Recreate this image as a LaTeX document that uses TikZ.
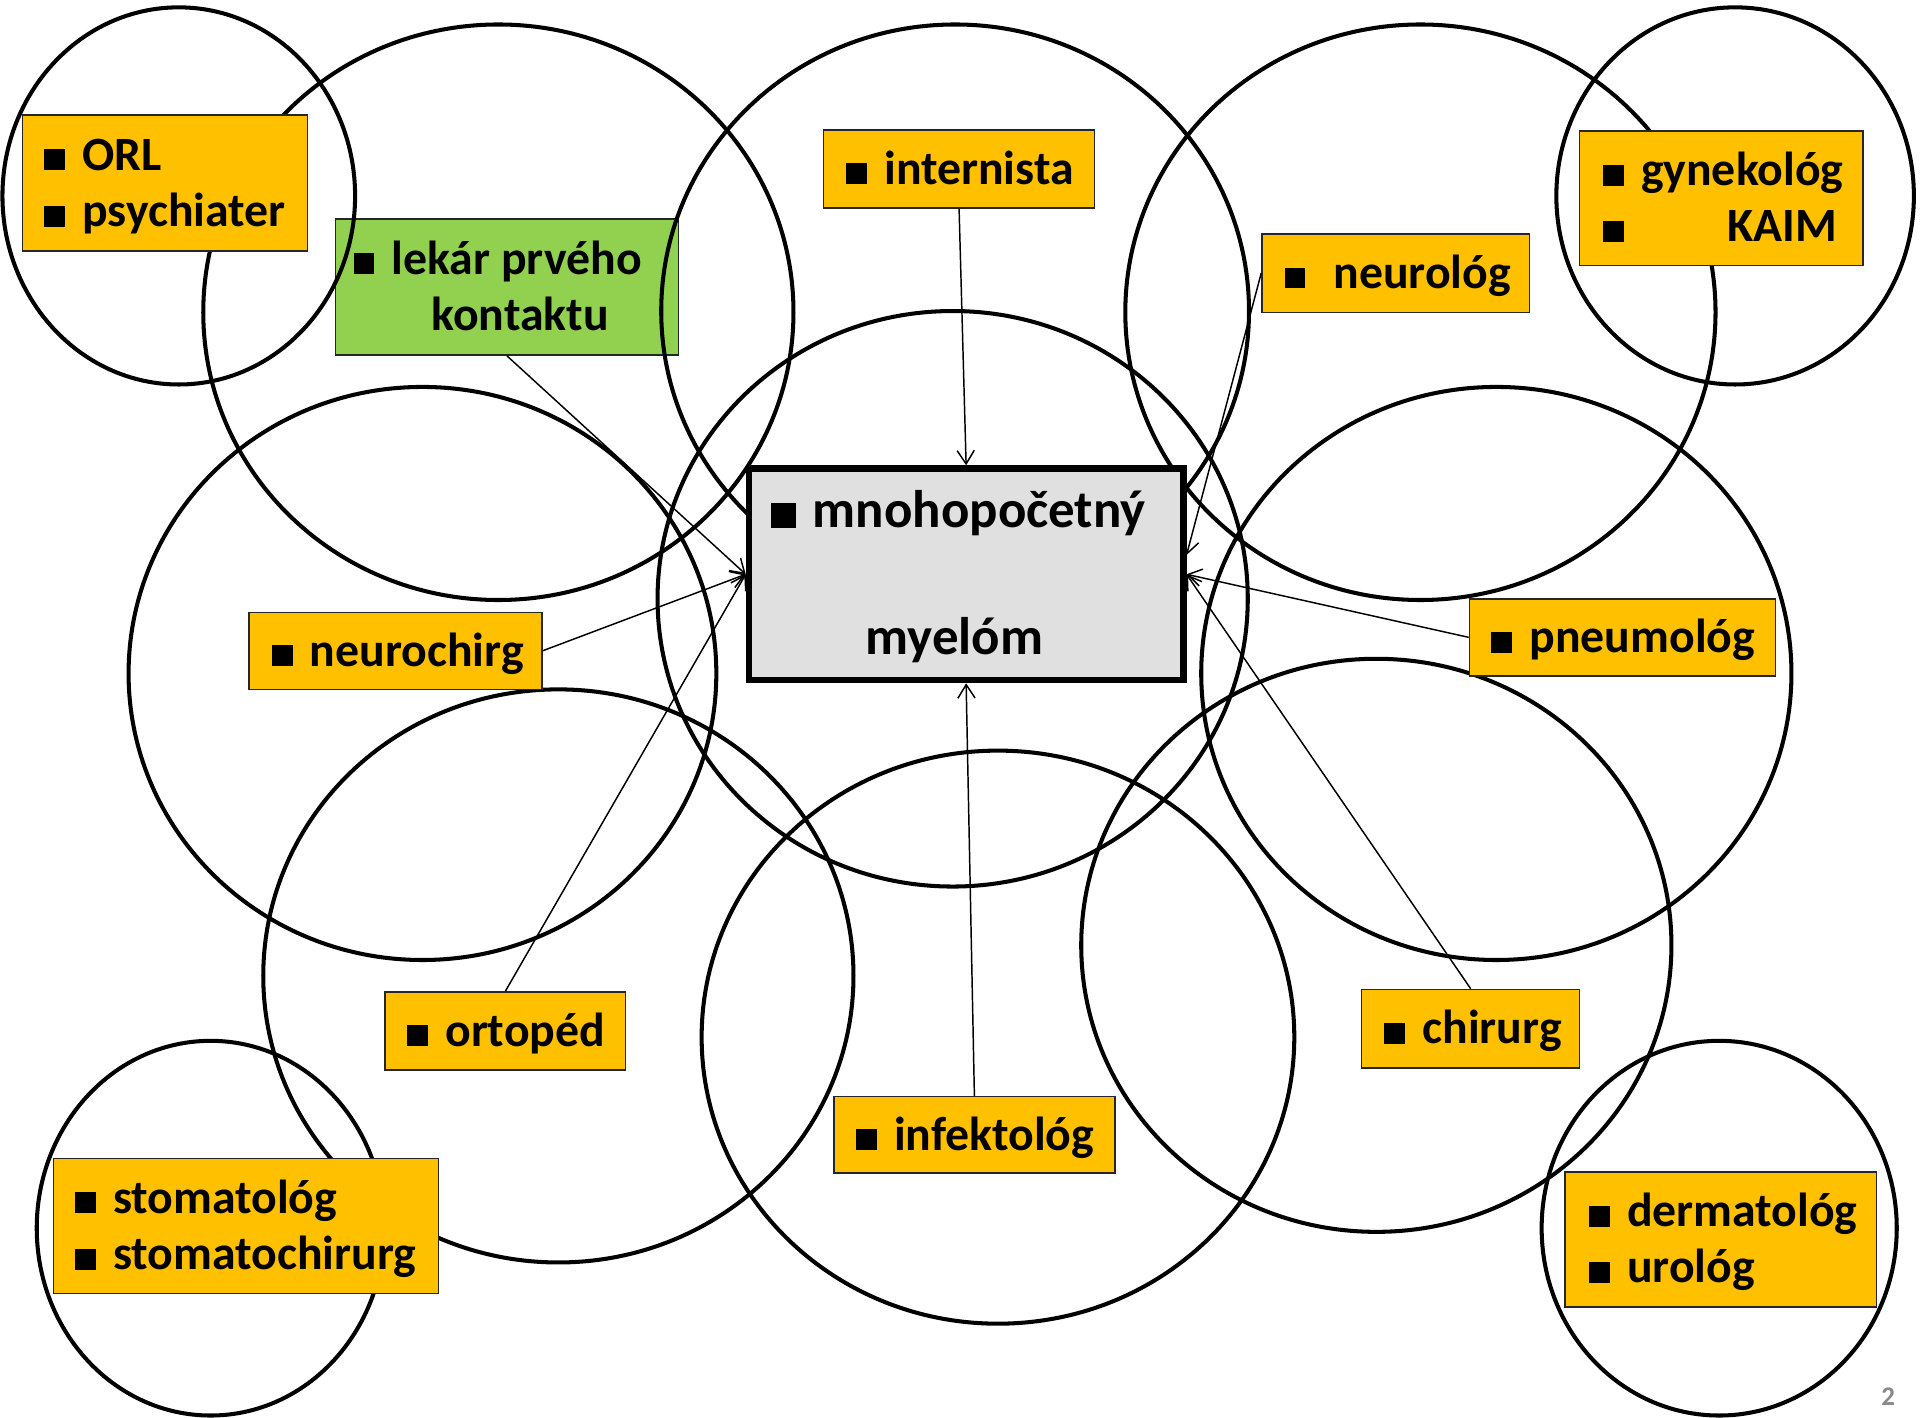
\documentclass[tikz,border=0pt]{standalone}
\usepackage{fontspec}
\setmainfont{Carlito}
\usetikzlibrary{arrows.meta}
\definecolor{gold}{HTML}{FFC000}
\definecolor{lgreen}{HTML}{92D050}
\definecolor{cgray}{HTML}{E0E0E0}
\definecolor{pgnum}{HTML}{898989}
\newcommand{\bul}{\rule{17pt}{17pt}\hspace{14.2pt}}
\newcommand{\cbul}{\rule{20.5pt}{20.5pt}\hspace{14pt}}
\newcommand{\tb}[2]{\parbox[t]{#1}{\raggedright #2}}
\begin{document}
\begin{tikzpicture}[x=1pt,y=-1pt,
  box/.style={draw=black!85, line width=1.2pt, inner sep=0pt,
    font=\fontsize{39}{46}\selectfont\bfseries, text height=25pt, text depth=0pt},
  obox/.style={box, fill=gold},
  gbox/.style={box, fill=lgreen},
  twoline/.style={text depth=46pt},
  ring/.style={line width=3.3pt},
  arr/.style={line width=1.2pt, -{Straight Barb[length=11pt,width=14pt]}}]
\useasboundingbox[fill=white] (0,0) rectangle (1568,1158);

% green box (below the circles)
\node[gbox, twoline, minimum width=280pt, minimum height=111pt] (lekar) at (414,234.5)
  {\tb{250.6pt}{\mbox{\bul lekár prvého}\\\mbox{\hspace*{63.8pt}kontaktu}}};

% circles
\draw[ring] (146,160) ellipse [x radius=144pt, y radius=154pt];
\draw[ring] (407,255) ellipse [x radius=241pt, y radius=235pt];
\draw[ring] (780,254) ellipse [x radius=240pt, y radius=234pt];
\draw[ring] (1160,255) ellipse [x radius=241pt, y radius=235pt];
\draw[ring] (1417,160) ellipse [x radius=146pt, y radius=154pt];
\draw[ring] (345,550) ellipse [x radius=240pt, y radius=234pt];
\draw[ring] (778,489) ellipse [x radius=241pt, y radius=235pt];
\draw[ring] (1222,550) ellipse [x radius=241pt, y radius=234pt];
\draw[ring] (456,797) ellipse [x radius=241pt, y radius=234pt];
\draw[ring] (815,847) ellipse [x radius=242pt, y radius=234pt];
\draw[ring] (1124,772) ellipse [x radius=241pt, y radius=234pt];
\draw[ring] (172,1003) ellipse [x radius=142pt, y radius=153pt];
\draw[ring] (1404,1003) ellipse [x radius=145pt, y radius=153pt];

% orange boxes
\node[obox, twoline, minimum width=232.5pt, minimum height=111pt] (orl) at (134.75,149.5)
  {\tb{197.5pt}{\mbox{\bul ORL}\\\mbox{\bul psychiater}}};
\node[obox, minimum width=221.5pt, minimum height=64pt] (intern) at (783.25,138)
  {\tb{184.5pt}{\mbox{\bul internista}}};
\node[obox, minimum width=218.4pt, minimum height=64pt] (neurol) at (1139.8,223)
  {\tb{181.6pt}{\mbox{\bul\ neurológ}}};
\node[obox, twoline, minimum width=231.5pt, minimum height=110pt] (gyn) at (1405.75,162)
  {\tb{193.5pt}{\mbox{\bul gynekológ}\\\mbox{\bul\hspace{70.6pt}KAIM}}};
\node[obox, minimum width=239pt, minimum height=63pt] (nchir) at (323,531.5)
  {\tb{202.2pt}{\mbox{\bul neurochirg}}};
\node[obox, minimum width=250pt, minimum height=63pt] (pneum) at (1325,520.5)
  {\tb{214pt}{\mbox{\bul pneumológ}}};
\node[obox, minimum width=196.5pt, minimum height=63.7pt] (orto) at (412.75,841.85)
  {\tb{160.5pt}{\mbox{\bul ortopéd}}};
\node[obox, minimum width=178pt, minimum height=64pt] (chir) at (1201,840)
  {\tb{140.8pt}{\mbox{\bul chirurg}}};
\node[obox, minimum width=229.5pt, minimum height=62.5pt] (infek) at (795.75,926.75)
  {\tb{193.5pt}{\mbox{\bul infektológ}}};
\node[obox, twoline, minimum width=314.5pt, minimum height=110.5pt] (stoma) at (200.75,1001.25)
  {\tb{279.3pt}{\mbox{\bul stomatológ}\\\mbox{\bul stomatochirurg}}};
\node[obox, twoline, minimum width=254.5pt, minimum height=110.5pt] (derma) at (1405.25,1012.25)
  {\tb{215.5pt}{\mbox{\bul dermatológ}\\\mbox{\bul urológ}}};

% central box
\node[box, fill=cgray, draw=black, line width=5.4pt, minimum width=354.6pt, minimum height=172.6pt,
  font=\fontsize{43.2}{51.75}\selectfont\bfseries, text height=27.8pt, text depth=103.5pt] (myel) at (789,469)
  {\tb{319.2pt}{\mbox{\cbul mnohopočetný}\\[51.75pt]\mbox{\hspace*{77.6pt}myelóm}}};

% connectors
\draw[arr] (lekar.south) -- (myel.west);
\draw[arr] (nchir.east) -- (myel.west);
\draw[arr] (orto.north) -- (myel.west);
\draw[arr] (intern.south) -- (myel.north);
\draw[arr] (infek.north) -- (myel.south);
\draw[arr] (neurol.west) -- (myel.5);
\draw[arr] (pneum.west) -- (myel.east);
\draw[arr] (chir.north) -- (myel.east);

% page number
\node[font=\fontsize{22}{26}\selectfont\bfseries, text=pgnum, inner sep=0pt] (pg) at (1542,1140.5) {2};
\end{tikzpicture}
\end{document}
